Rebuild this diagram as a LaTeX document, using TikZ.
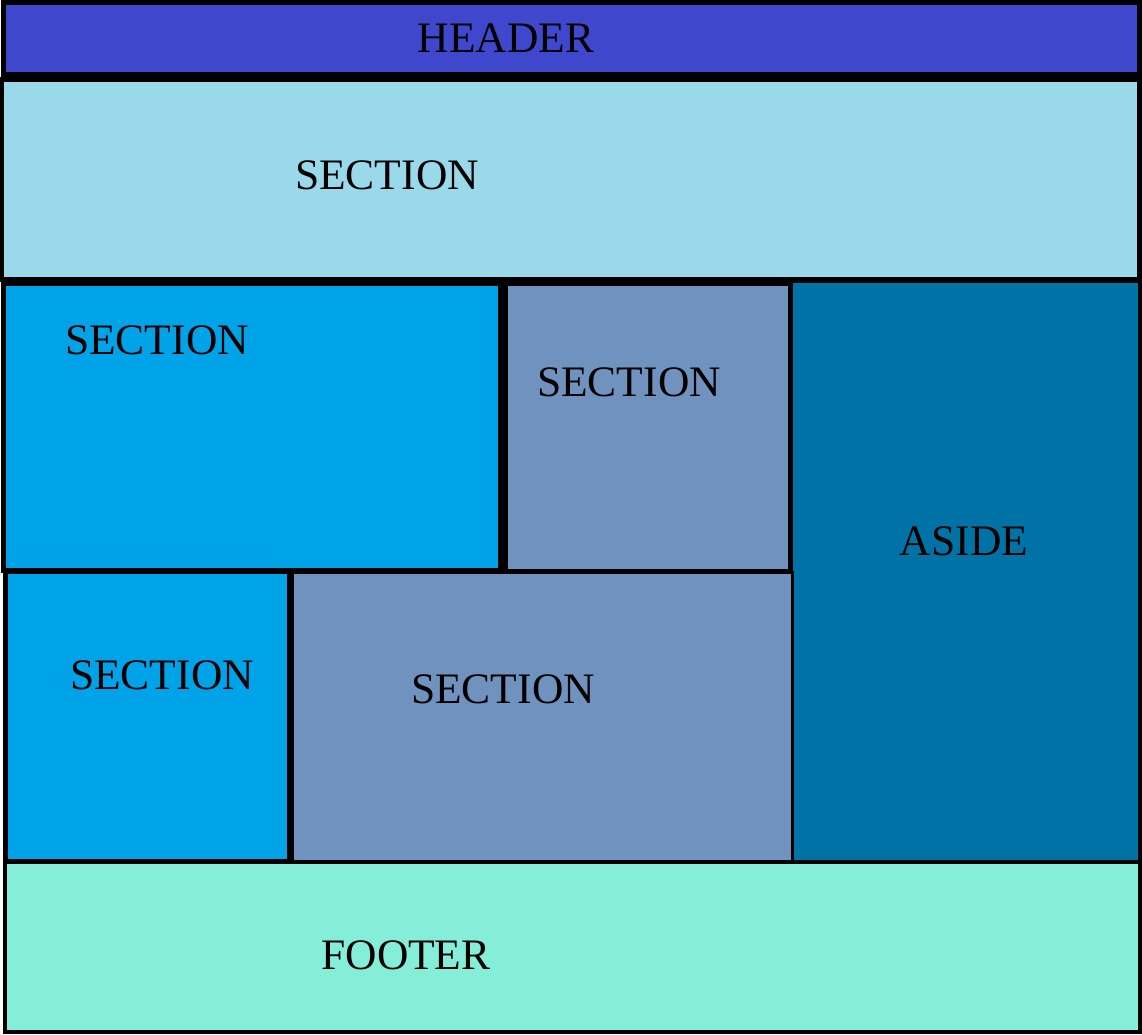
\documentclass[tikz,border=0pt]{standalone}
\usepackage{fontspec}
\setmainfont{Liberation Serif}
\usepackage{tikz}
\usetikzlibrary{positioning}
\definecolor{headblue}{RGB}{63, 72, 204}
\definecolor{paleblue}{RGB}{153, 217, 234}
\definecolor{skyblue}{RGB}{0, 162, 232}
\definecolor{greyblue}{RGB}{112, 146, 190}
\definecolor{deepblue}{RGB}{0, 114, 165}
\definecolor{mint}{RGB}{132, 238, 216}

\tikzset{
    block/.style={draw, line width=5pt, inner sep=0pt, outer sep=0pt},
    lbl/.style={inner sep=0pt, font=\fontsize{43.5}{50}\selectfont}
}

\begin{document}
\begin{tikzpicture}[x=1pt, y=-1pt]
    \useasboundingbox (0,0) rectangle (1142,1034);

    % boxes of the page layout
    \node[block, fill=headblue, minimum width=1136pt, minimum height=72pt] (header) at (571.5,38) {};
    \node[block, fill=paleblue, minimum width=1138pt, minimum height=200pt] (top) at (570.5,179) {};
    \node[block, fill=deepblue, line width=3.5pt, minimum width=349pt, minimum height=581pt] (aside) at (965.5,571.5) {};
    \node[block, fill=skyblue, minimum width=497pt, minimum height=287pt] (left) at (252,427) {};
    \node[block, fill=greyblue, minimum width=285pt, minimum height=288pt] (middle) at (648,427.5) {};
    \node[block, fill=skyblue, minimum width=284pt, minimum height=290pt] (lower) at (147.5,716.5) {};
    \node[block, fill=greyblue, line width=3pt, minimum width=500pt, minimum height=289pt] (wide) at (542,716.5) {};
    \node[block, fill=mint, line width=4pt, minimum width=1135pt, minimum height=170pt] (footer) at (572.5,947) {};

    % labels
    \node[lbl] (headertxt) at (506,38) {HEADER};
    \node[lbl] (toptxt) at (387,175) {SECTION};
    \node[lbl] (lefttxt) at (157,340) {SECTION};
    \node[lbl] (middletxt) at (629,382) {SECTION};
    \node[lbl] (asidetxt) at (964,541) {ASIDE};
    \node[lbl] (lowertxt) at (162,675) {SECTION};
    \node[lbl] (widetxt) at (503,689) {SECTION};
    \node[lbl] (footertxt) at (406,955) {FOOTER};
\end{tikzpicture}
\end{document}
